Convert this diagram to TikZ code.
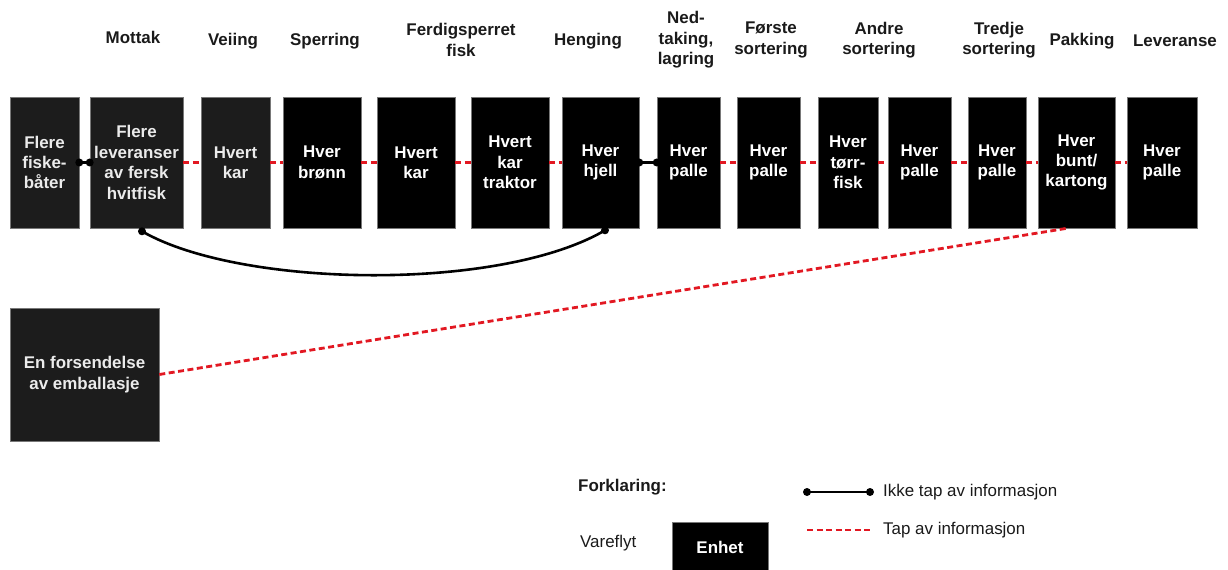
\documentclass[tikz,border=0pt]{standalone}
\usepackage{fontspec}
\setmainfont{Liberation Sans}
\usetikzlibrary{arrows.meta}
\definecolor{darkbox}{RGB}{28,28,28}
\definecolor{lossred}{RGB}{226,24,34}
\definecolor{headtext}{RGB}{26,26,26}
\tikzset{
  unitbox/.style={draw={rgb,255:red,120;green,120;blue,120}, line width=0.6bp, fill=black, text=white,
    align=center, inner sep=0pt, minimum height=131bp,
    font=\bfseries\fontsize{17}{20.5}\selectfont},
  greybox/.style={unitbox, fill=darkbox, text={rgb,255:red,235;green,235;blue,235}},
  header/.style={align=center, text=headtext, inner sep=0pt,
    font=\bfseries\fontsize{17}{20.5}\selectfont},
  legtext/.style={anchor=west, inner sep=0pt, text=headtext,
    font=\fontsize{17}{20}\selectfont},
  keep/.style={line width=2.2bp, black},
  loss/.style={line width=2.8bp, lossred, dash pattern=on 6bp off 3.5bp},
  dotend/.style={fill=black, circle, inner sep=0pt, minimum size=8bp}
}
\begin{document}
\begin{tikzpicture}[x=1bp,y=-1bp]
\useasboundingbox (0,0) rectangle (1228,570);
% headers
\node[header] (h1) at (133,37) {Mottak};
\node[header] (h2) at (233,41) {Veiing};
\node[header] (h3) at (325,41) {Sperring};
\node[header] (h4) at (461,40) {Ferdigsperret\\fisk};
\node[header] (h5) at (588,41) {Henging};
\node[header] (h6) at (686,40) {Ned-\\taking,\\lagring};
\node[header] (h7) at (771,40) {Første\\sortering};
\node[header] (h8) at (879,40) {Andre\\sortering};
\node[header] (h9) at (999,40) {Tredje\\sortering};
\node[header] (h10) at (1082,41) {Pakking};
\node[header] (h11) at (1175,41) {Leveranse};
% boxes
\node[greybox, minimum width=69bp] (n1) at (44.5,162.5) {Flere\\fiske-\\båter};
\node[greybox, minimum width=93bp] (n2) at (136.5,162.5) {Flere\\leveranser\\av fersk\\hvitfisk};
\node[greybox, minimum width=69bp] (n3) at (235.5,162.5) {Hvert\\kar};
\node[unitbox, minimum width=78bp] (n4) at (322,162.5) {Hver\\brønn};
\node[unitbox, minimum width=78bp] (n5) at (416,162.5) {Hvert\\kar};
\node[unitbox, minimum width=78bp] (n6) at (510,162.5) {Hvert\\kar\\traktor};
\node[unitbox, minimum width=77bp] (n7) at (600.5,162.5) {Hver\\hjell};
\node[unitbox, minimum width=63bp] (n8) at (688.5,162.5) {Hver\\palle};
\node[unitbox, minimum width=63bp] (n9) at (768.5,162.5) {Hver\\palle};
\node[unitbox, minimum width=60bp] (n10) at (848,162.5) {Hver\\tørr-\\fisk};
\node[unitbox, minimum width=63bp] (n11) at (919.5,162.5) {Hver\\palle};
\node[unitbox, minimum width=58bp] (n12) at (997,162.5) {Hver\\palle};
\node[unitbox, minimum width=77bp] (n13) at (1076.5,162.5) {Hver\\bunt/\\kartong};
\node[unitbox, minimum width=70bp] (n14) at (1162,162.5) {Hver\\palle};
\node[greybox, minimum width=149bp, minimum height=133bp] (n15) at (84.5,374.5) {En forsendelse\\av emballasje};
% connectors
\draw[keep] (n1.east) -- (n2.west);
\node[dotend] at (n1.east) {}; \node[dotend] at (n2.west) {};
\draw[loss] (n2.east) -- (n3.west);
\draw[loss] (n3.east) -- (n4.west);
\draw[loss] (n4.east) -- (n5.west);
\draw[loss] (n5.east) -- (n6.west);
\draw[loss] (n6.east) -- (n7.west);
\draw[keep] (n7.east) -- (n8.west);
\node[dotend] at (n7.east) {}; \node[dotend] at (n8.west) {};
\draw[loss] (n8.east) -- (n9.west);
\draw[loss] (n9.east) -- (n10.west);
\draw[loss] (n10.east) -- (n11.west);
\draw[loss] (n11.east) -- (n12.west);
\draw[loss] (n12.east) -- (n13.west);
\draw[loss] (n13.east) -- (n14.west);
% curve
\coordinate (c1) at ([xshift=5.5bp,yshift=-3bp]n2.south);
\coordinate (c2) at ([xshift=4.5bp,yshift=-2bp]n7.south);
\draw[keep, line width=2.6bp] (c1) .. controls (240,288) and (500,292) .. (c2);
\node[dotend] at (c1) {}; \node[dotend] at (c2) {};
% long loss
\draw[loss] (n15.east) -- ([xshift=-9.5bp]n13.south);
% legend
\node[legtext, font=\bfseries\fontsize{17}{20}\selectfont] (f) at (578,487) {Forklaring:};
\node[legtext] (v) at (580,543) {Vareflyt};
\node[unitbox, minimum width=96bp, minimum height=50bp] (e) at (720,547) {Enhet};
\coordinate (l1a) at (807,492); \coordinate (l1b) at (870,492);
\draw[keep] (l1a) -- (l1b);
\node[dotend] at (l1a) {}; \node[dotend] at (l1b) {};
\node[legtext] (t1) at (883,492) {Ikke tap av informasjon};
\coordinate (l2a) at (807,530); \coordinate (l2b) at (870,530);
\draw[loss] (l2a) -- (l2b);
\node[legtext] (t2) at (883,530) {Tap av informasjon};
\end{tikzpicture}
\end{document}
